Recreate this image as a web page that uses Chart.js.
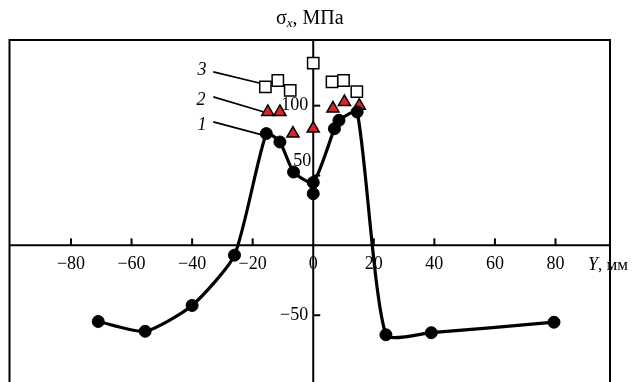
<html lang="ru">

<head>
  <meta charset="UTF-8">
  <title>sigma x</title>
  <script src="https://cdn.jsdelivr.net/npm/chart.js"></script>
  <style>
    body {
      margin: 0;
      background: #ffffff;
    }
  </style>
</head>

<body>
  <canvas id="chartStress" width="634" height="382"></canvas>
  <script>
    // series 1 - circles joined by line
    const line1X = [-71, -55.5, -40, -26, -15.5, -11, -6.5, 0, 7, 8.5, 14.5, 24, 39, 79.5];
    const line1Y = [-54.5, -61.5, -43, -7, 80, 74, 52.5, 45, 83.5, 89.5, 95.5, -64, -62.5, -55];
    // lone circle on the axis, not on the line
    const extra1X = [0];
    const extra1Y = [37];
    // series 2 - red triangles
    const tri2X = [-15, -11, -6.7, 0, 6.5, 10.3, 15.2];
    const tri2Y = [95.5, 95.5, 80, 83.6, 98, 102.7, 100];
    // series 3 - open squares
    const sq3X = [-15.8, -11.7, -7.6, 0, 6.2, 10, 14.4];
    const sq3Y = [113.5, 118, 111, 130.5, 117, 118, 110];

    const xTicks = [-80, -60, -40, -20, 0, 20, 40, 60, 80];
    const xTickLabels = ['\u221280', '\u221260', '\u221240', '\u221220', '0', '20', '40', '60', '80'];
    const yTicks = [100, 50, -50];
    const yTickLabels = ['100', '50', '\u221250'];

    const seriesNames = ['3', '2', '1'];

    const toPts = (xs, ys) => xs.map((x, i) => ({ x: x, y: ys[i] }));

    const SERIF = '"Liberation Serif", "DejaVu Serif", serif';

    // axes through zero, frame, labels and the numbered leader lines
    const crossAxesPlugin = {
      id: 'crossAxes',
      beforeDatasetsDraw(chart) {
        const { ctx, chartArea: a, scales: { x, y } } = chart;
        const x0 = x.getPixelForValue(0);
        const y0 = y.getPixelForValue(0);
        const bottom = chart.height;
        ctx.save();
        ctx.strokeStyle = '#000';
        ctx.lineWidth = 2;

        // frame: left, top, right (bottom edge is cut off)
        ctx.beginPath();
        ctx.moveTo(a.left, bottom);
        ctx.lineTo(a.left, a.top);
        ctx.lineTo(a.right, a.top);
        ctx.lineTo(a.right, bottom);
        ctx.stroke();

        // axes
        ctx.beginPath();
        ctx.moveTo(a.left, y0);
        ctx.lineTo(a.right, y0);
        ctx.moveTo(x0, a.top);
        ctx.lineTo(x0, bottom);
        ctx.stroke();

        // x ticks (upwards) and labels
        ctx.font = '18px ' + SERIF;
        ctx.fillStyle = '#000';
        ctx.textAlign = 'center';
        ctx.textBaseline = 'middle';
        xTicks.forEach((v, i) => {
          const px = x.getPixelForValue(v);
          if (v !== 0) {
            ctx.beginPath();
            ctx.moveTo(px, y0);
            ctx.lineTo(px, y0 - 7);
            ctx.stroke();
          }
          ctx.fillText(xTickLabels[i], px, y0 + 19);
        });

        // y ticks (to the right) and labels
        ctx.textAlign = 'right';
        yTicks.forEach((v, i) => {
          const py = y.getPixelForValue(v);
          ctx.beginPath();
          ctx.moveTo(x0, py);
          ctx.lineTo(x0 + 7, py);
          ctx.stroke();
          const off = v === 50 ? -14 : 0;
          const gap = v === 50 ? 2 : 5;
          ctx.fillText(yTickLabels[i], x0 - gap, py + off);
        });

        // axis titles
        ctx.textAlign = 'left';
        ctx.textBaseline = 'alphabetic';
        let tx = 588;
        ctx.font = 'italic 18px ' + SERIF;
        ctx.fillText('Y', tx, y0 + 25);
        tx += ctx.measureText('Y').width;
        ctx.font = '17px ' + SERIF;
        ctx.fillText(', мм', tx, y0 + 25);

        let sx = 276;
        const sy = 24;
        ctx.font = '20px ' + SERIF;
        ctx.fillText('σ', sx, sy);
        sx += ctx.measureText('σ').width;
        ctx.font = 'italic 13px ' + SERIF;
        ctx.fillText('x', sx, sy + 3);
        sx += ctx.measureText('x').width;
        ctx.font = '20px ' + SERIF;
        ctx.fillText(', МПа', sx, sy);

        // numbered leader lines
        const leaders = [
          { tx: -36.7, ty: 125.4, x1: -33, y1: 124.2, x2: -17.5, y2: 116.1 },
          { tx: -37.1, ty: 104, x1: -33, y1: 106.3, x2: -16.5, y2: 95.6 },
          { tx: -36.7, ty: 86, x1: -33, y1: 88.4, x2: -16.6, y2: 78.9 }
        ];
        ctx.lineWidth = 1.6;
        ctx.font = 'italic 18px ' + SERIF;
        ctx.textAlign = 'center';
        ctx.textBaseline = 'middle';
        leaders.forEach((l, i) => {
          ctx.fillText(seriesNames[i], x.getPixelForValue(l.tx), y.getPixelForValue(l.ty));
          ctx.beginPath();
          ctx.moveTo(x.getPixelForValue(l.x1), y.getPixelForValue(l.y1));
          ctx.lineTo(x.getPixelForValue(l.x2), y.getPixelForValue(l.y2));
          ctx.stroke();
        });
        ctx.restore();
      }
    };

    const ctxStress = document.getElementById('chartStress');
    const stressChart = new Chart(ctxStress, {
      type: 'scatter',
      data: {
        datasets: [{
          label: '1',
          data: toPts(line1X, line1Y),
          showLine: true,
          tension: 0.2,
          borderColor: '#000',
          borderWidth: 3.2,
          pointBackgroundColor: '#000',
          pointBorderColor: '#000',
          pointRadius: 6,
          pointBorderWidth: 1
        }, {
          label: '1b',
          data: toPts(extra1X, extra1Y),
          showLine: false,
          pointBackgroundColor: '#000',
          pointBorderColor: '#000',
          pointRadius: 6,
          pointBorderWidth: 1
        }, {
          label: '2',
          data: toPts(tri2X, tri2Y),
          showLine: false,
          pointStyle: 'triangle',
          pointBackgroundColor: '#d7262b',
          pointBorderColor: '#000',
          pointRadius: 7,
          pointBorderWidth: 1.5
        }, {
          label: '3',
          data: toPts(sq3X, sq3Y),
          showLine: false,
          pointStyle: 'rect',
          pointBackgroundColor: '#fff',
          pointBorderColor: '#000',
          pointRadius: 8,
          pointBorderWidth: 1.5
        }]
      },
      options: {
        responsive: false,
        animation: false,
        layout: {
          padding: { left: 9, top: 40, right: 24, bottom: 0 }
        },
        scales: {
          x: { type: 'linear', display: false, min: -100.3, max: 98 },
          y: { type: 'linear', display: false, min: -91, max: 147 }
        },
        plugins: {
          legend: { display: false },
          tooltip: { enabled: false }
        }
      },
      plugins: [crossAxesPlugin]
    });
  </script>
</body>

</html>
